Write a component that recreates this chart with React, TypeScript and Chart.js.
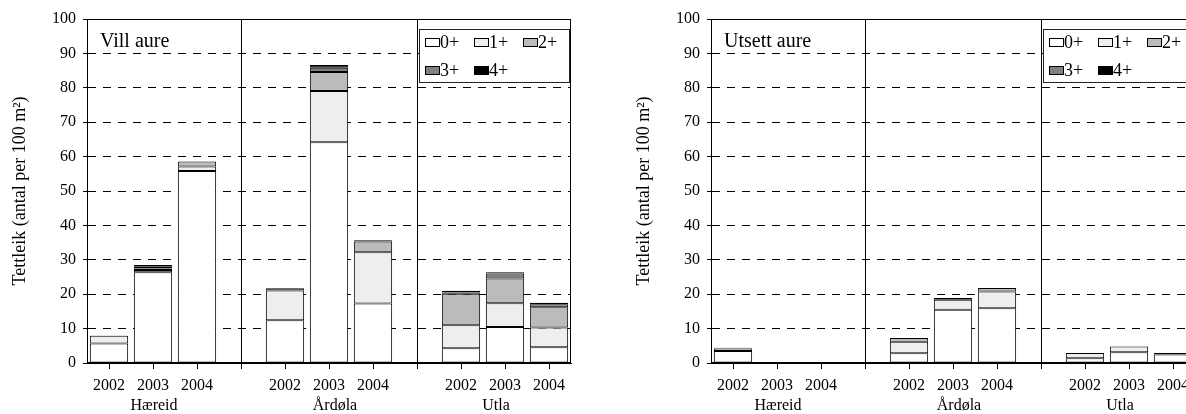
import React, { useEffect, useRef } from 'react';
import { Chart, registerables } from 'chart.js';

Chart.register(...registerables);

const FONT = '"Liberation Serif", "Times New Roman", serif';

const years = ['2002', '2003', '2004'];
const sites = ['Hæreid', 'Årdøla', 'Utla'];
const ageClasses = ['0+', '1+', '2+', '3+', '4+'];
const ageColors = ['#ffffff', '#eeeeee', '#bbbbbb', '#808080', '#000000'];
const yTitle = 'Tettleik (antal per 100 m²)';
const yMax = 100;
const yStep = 10;

// Slots: Hæreid 2002-2004, gap, Årdøla 2002-2004, gap, Utla 2002-2004
const villAge0 = [5.7, 26.4, 55.8, null, 12.4, 64.2, 17.3, null, 4.3, 10.5, 4.6];
const villAge1 = [2.2, 0.6, 1.3, null, 8.7, 14.9, 14.9, null, 6.7, 6.9, 5.7];
const villAge2 = [0.1, 0.5, 1.5, null, 0.6, 5.5, 3.1, null, 9.1, 7.2, 5.9];
const villAge3 = [0, 0.5, 0, null, 0, 1.2, 0, null, 0.4, 1.4, 0.9];
const villAge4 = [0, 0.5, 0, null, 0, 0.8, 0.4, null, 0.5, 0.4, 0.4];

const utsettAge0 = [3.5, 0, 0, null, 2.8, 15.5, 15.9, null, 1.4, 3.1, 2.5];
const utsettAge1 = [0.7, 0, 0, null, 3.4, 2.9, 4.9, null, 1.5, 1.7, 0.4];
const utsettAge2 = [0.2, 0, 0, null, 1.1, 0.5, 1.0, null, 0, 0, 0];
const utsettAge3 = [0, 0, 0, null, 0, 0, 0, null, 0, 0, 0];
const utsettAge4 = [0, 0, 0, null, 0, 0, 0, null, 0, 0, 0];

const labels: string[] = [];
const siteCenterIndex: number[] = [];
sites.forEach((s, i) => {
  years.forEach((y, j) => {
    if (j === 1) siteCenterIndex.push(labels.length);
    labels.push(y);
  });
  if (i < sites.length - 1) labels.push('');
});

const siteLabelNudge = [1, 6, -9];

const decorPlugin = {
  id: 'decor',
  afterDraw(chart: any, _args: any, opts: any) {
    const { ctx, chartArea: a } = chart;
    const xScale = chart.scales.x;
    ctx.save();
    ctx.strokeStyle = '#000';
    ctx.lineWidth = 1;
    ctx.setLineDash([]);
    ctx.strokeRect(Math.round(a.left) + 0.5, Math.round(a.top) + 0.5, Math.round(a.right - a.left) - 1, Math.round(a.bottom - a.top) - 1);

    // site names under the year labels
    ctx.fillStyle = '#000';
    ctx.font = `16px ${FONT}`;
    ctx.textAlign = 'center';
    ctx.textBaseline = 'alphabetic';
    sites.forEach((s, i) => {
      const x = xScale.getPixelForValue(siteCenterIndex[i]) + siteLabelNudge[i];
      ctx.fillText(s, x, a.bottom + 47);
    });

    // panel title
    ctx.font = `20px ${FONT}`;
    ctx.textAlign = 'left';
    ctx.fillText(opts.title, a.left + 13, a.top + 28);

    // legend box
    const bx = Math.round(a.left + 332);
    const by = Math.round(a.top + 10);
    const bw = 150;
    const bh = 53;
    ctx.fillStyle = '#fff';
    ctx.fillRect(bx, by, bw, bh);
    ctx.strokeStyle = '#222';
    ctx.strokeRect(bx + 0.5, by + 0.5, bw, bh);
    chart.data.datasets.forEach((ds: any, i: number) => {
      const col = i % 3;
      const row = Math.floor(i / 3);
      const sx = bx + 6 + col * 49;
      const cy = by + 13 + row * 28;
      ctx.fillStyle = ds.backgroundColor;
      ctx.fillRect(sx, cy - 4, 15, 9);
      ctx.strokeStyle = '#000';
      ctx.strokeRect(sx + 0.5, cy - 4 + 0.5, 14, 8);
      ctx.fillStyle = '#000';
      ctx.font = `18px ${FONT}`;
      ctx.textBaseline = 'middle';
      ctx.fillText(ds.label, sx + 15, cy + 1);
    });
    ctx.restore();
  },
};

function makeConfig(title: string, series: (number | null)[][]): any {
  return {
    type: 'bar',
    data: {
      labels,
      datasets: series.map((d, i) => ({
        label: ageClasses[i],
        data: d,
        backgroundColor: ageColors[i],
        borderColor: '#000',
        borderWidth: 1,
        borderSkipped: false,
        barPercentage: 0.87,
        categoryPercentage: 1,
      })),
    },
    options: {
      responsive: false,
      animation: false,
      devicePixelRatio: 1,
      layout: { padding: { top: 19, right: 29, left: 0, bottom: 0 } },
      plugins: {
        legend: { display: false },
        tooltip: { enabled: false },
        decor: { title },
      },
      scales: {
        x: {
          stacked: true,
          afterFit(scale: any) {
            scale.height = 51;
          },
          grid: {
            offset: false,
            drawOnChartArea: true,
            color: (c: any) => (labels[c.index] === '' ? '#000' : 'rgba(0,0,0,0)'),
            tickColor: '#000',
            tickLength: 6,
            lineWidth: 1,
          },
          border: { display: true, color: '#000', width: 1 },
          ticks: {
            color: '#000',
            font: { family: FONT, size: 16 },
            padding: 7,
            maxRotation: 0,
            autoSkip: false,
          },
        },
        y: {
          stacked: true,
          min: 0,
          max: yMax,
          afterFit(scale: any) {
            scale.width = 87;
          },
          grid: {
            color: '#000',
            lineWidth: 1,
            tickColor: '#000',
            tickLength: 4,
          },
          border: { display: true, color: '#000', width: 1, dash: [8, 7] },
          ticks: {
            stepSize: yStep,
            color: '#000',
            font: { family: FONT, size: 16 },
            padding: 7,
          },
          title: {
            display: true,
            text: yTitle,
            color: '#000',
            font: { family: FONT, size: 18 },
            padding: { top: 9, bottom: 0 },
          },
        },
      },
    },
    plugins: [decorPlugin],
  };
}

function BarChart({ title, series }: { title: string; series: (number | null)[][] }) {
  const ref = useRef<HTMLCanvasElement | null>(null);
  useEffect(() => {
    if (!ref.current) return;
    const chart = new Chart(ref.current, makeConfig(title, series));
    return () => chart.destroy();
  }, [title, series]);
  return <canvas ref={ref} width={600} height={414} style={{ width: 600, height: 414, display: 'block' }} />;
}

const villSeries = [villAge0, villAge1, villAge2, villAge3, villAge4];
const utsettSeries = [utsettAge0, utsettAge1, utsettAge2, utsettAge3, utsettAge4];

export default function App() {
  return (
    <div style={{ position: 'fixed', left: 0, top: 0, width: 1186, height: 414, overflow: 'hidden', background: '#fff' }}>
      <div style={{ position: 'absolute', left: 0, top: 0 }}>
        <BarChart title="Vill aure" series={villSeries} />
      </div>
      <div style={{ position: 'absolute', left: 624, top: 0 }}>
        <BarChart title="Utsett aure" series={utsettSeries} />
      </div>
    </div>
  );
}
